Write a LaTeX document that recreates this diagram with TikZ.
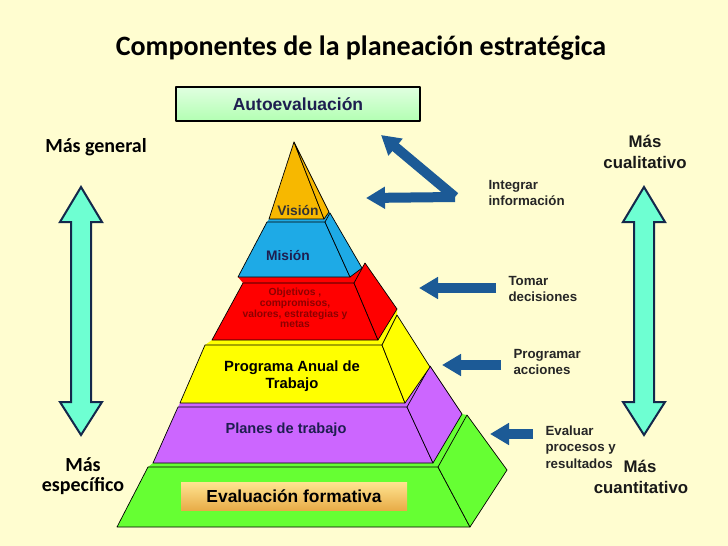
\documentclass[tikz,border=0pt]{standalone}
\usepackage{fontspec}
\setmainfont{Liberation Sans}
\newfontfamily\calibri{Carlito}
\usetikzlibrary{arrows.meta}
\definecolor{bgcol}{RGB}{255,253,208}
\definecolor{arrowblue}{RGB}{28,90,150}
\definecolor{aquacol}{RGB}{110,255,210}
\definecolor{navycol}{RGB}{20,40,75}
\definecolor{vicol}{RGB}{247,184,0}
\definecolor{micol}{RGB}{30,170,230}
\definecolor{obcol}{RGB}{255,0,0}
\definecolor{prcol}{RGB}{255,255,0}
\definecolor{plcol}{RGB}{204,102,255}
\definecolor{evcol}{RGB}{102,255,51}
\definecolor{txtnavy}{RGB}{30,30,80}
\definecolor{goldtop}{RGB}{255,228,145}
\definecolor{goldbot}{RGB}{232,172,72}

\begin{document}
\begin{tikzpicture}[x=1pt, y=-1pt,
        line join=round,
        face/.style={draw=black, line width=0.7pt},
        bluearrow/.style={arrowblue, line width=10pt, line join=bevel,
            -{Triangle[length=19pt, width=21pt]}},
        bigarrow/.style={fill=aquacol, draw=navycol, line width=2pt, line join=miter},
        sidelabel/.style={font=\calibri\bfseries\fontsize{20}{20}\selectfont, align=center, text=black},
        rightlabel/.style={font=\bfseries\fontsize{16.8}{21}\selectfont, align=center, text=black!90},
        notelabel/.style={font=\bfseries\fontsize{13.3}{16.5}\selectfont, align=left, anchor=west, text=black!85},
        layerlabel/.style={font=\bfseries\fontsize{13.8}{17}\selectfont, align=center}]
        \fill[bgcol] (0,0) rectangle (728,546);
        \useasboundingbox (0,0) rectangle (728,546);

        % title and top box
        \node[font=\calibri\bfseries\fontsize{28}{32}\selectfont] (title) at (361,48) {Componentes de la planeación estratégica};
        \node[draw=black, line width=2pt, top color=green!12, bottom color=green!30!white,
            minimum width=244, minimum height=34, inner sep=0pt,
            font=\bfseries\fontsize{17.5}{22}\selectfont, text=txtnavy] (autoeval) at (298,104) {Autoevaluación};

        % pyramid, bottom to top
        % green
        \fill[evcol] (153,463) -- (433,463) -- (462,414) -- (467,415) -- (438,467) -- (148,467) -- cycle;
        \draw[face, fill=evcol] (148,467) -- (117,527) -- (470,527) -- (438,467) -- cycle;
        \draw[face, fill=evcol] (438,467) -- (470,527) -- (507,470) -- (467,415) -- cycle;
        % purple
        \fill[plcol] (180,403) -- (405,403) -- (430,367) -- (430,366) -- (407,407) -- (178,407) -- cycle;
        \draw[face, fill=plcol] (178,407) -- (153,463) -- (433,463) -- (407,407) -- cycle;
        \draw[face, fill=plcol] (407,407) -- (433,463) -- (462,414) -- (430,366) -- cycle;
        % yellow
        \fill[prcol] (212,340) -- (378,340) -- (397,309) -- (397,315) -- (382,345) -- (205,345) -- cycle;
        \draw[face, fill=prcol] (205,345) -- (180,403) -- (405,403) -- (382,345) -- cycle;
        \draw[face, fill=prcol] (382,345) -- (405,403) -- (430,367) -- (397,315) -- cycle;
        % red
        \fill[obcol] (238,277) -- (350,277) -- (362,268) -- (365,263) -- (354,283) -- (243,283) -- cycle;
        \draw[face, fill=obcol] (243,283) -- (212,340) -- (378,340) -- (354,283) -- cycle;
        \draw[face, fill=obcol] (354,283) -- (378,340) -- (397,309) -- (365,263) -- cycle;
        % blue
        \fill[micol] (269,219) -- (324,219) -- (329,212) -- (330,213) -- (325,222) -- (267,222) -- cycle;
        \draw[face, fill=micol] (267,222) -- (238,277) -- (350,277) -- (325,222) -- cycle;
        \draw[face, fill=micol] (325,222) -- (350,277) -- (362,268) -- (330,213) -- cycle;
        % orange
        \draw[face, fill=vicol] (294,142) -- (269,219) -- (324,219) -- cycle;
        \draw[face, fill=vicol] (294,142) -- (324,219) -- (329,212) -- cycle;

        % layer labels
        \node[layerlabel, text=black!80] (vision) at (298,211) {Visión};
        \node[layerlabel, text=txtnavy] (mision) at (288,256) {Misión};
        \node[font=\bfseries\fontsize{10.3}{10.7}\selectfont, align=center, text=red!55!black] (objetivos) at (295,308)
            {Objetivos ,\\compromisos,\\valores, estrategias y\\metas};
        \node[layerlabel, font=\bfseries\fontsize{14.8}{17}\selectfont] (programa) at (292,376)
            {Programa Anual de\\Trabajo};
        \node[layerlabel, text=txtnavy, font=\bfseries\fontsize{14.6}{17}\selectfont] (planes) at (286,430) {Planes de trabajo};
        \node[top color=goldtop, bottom color=goldbot,
            minimum width=226, minimum height=28, inner sep=0pt,
            font=\bfseries\fontsize{17.4}{22}\selectfont] (formativa) at (294,496) {Evaluación formativa};

        % side texts
        \node[sidelabel] (general) at (96,147) {Más general};
        \node[sidelabel] (especifico) at (83,476) {Más\\específico};
        \node[rightlabel] (cualitativo) at (645,152) {Más\\cualitativo};
        \node[rightlabel] (mascuant) at (640,466) {Más};
        \node[rightlabel] (cuantitativo) at (641,487) {cuantitativo};

        % big double arrows
        \foreach \cx in {81,644}{
        \draw[bigarrow] (\cx,187) -- (\cx+21,222) -- (\cx+10,222) -- (\cx+10,402) -- (\cx+21,402)
            -- (\cx,435) -- (\cx-21,402) -- (\cx-10,402) -- (\cx-10,222) -- (\cx-21,222) -- cycle;
        }

        % right notes
        \node[notelabel] (integrar) at (485,193) {Integrar\\información};
        \node[notelabel] (tomar) at (505,289) {Tomar\\decisiones};
        \node[notelabel] (programar) at (510,362) {Programar\\acciones};
        \node[notelabel] (evaluar) at (542,447) {Evaluar\\procesos y\\resultados};

        % blue arrows
        \coordinate (vtx) at (455,197);
        \draw[bluearrow] (vtx) -- (381,135);
        \draw[bluearrow] (vtx) -- (366,198);
        \coordinate (tomartail) at (496,288);
        \coordinate (programartail) at (501,365);
        \coordinate (evaluartail) at (533,434);
        \draw[bluearrow] (tomartail) -- (419,288);
        \draw[bluearrow] (programartail) -- (442,365);
        \draw[bluearrow] (evaluartail) -- (490,434);
    \end{tikzpicture}
\end{document}
